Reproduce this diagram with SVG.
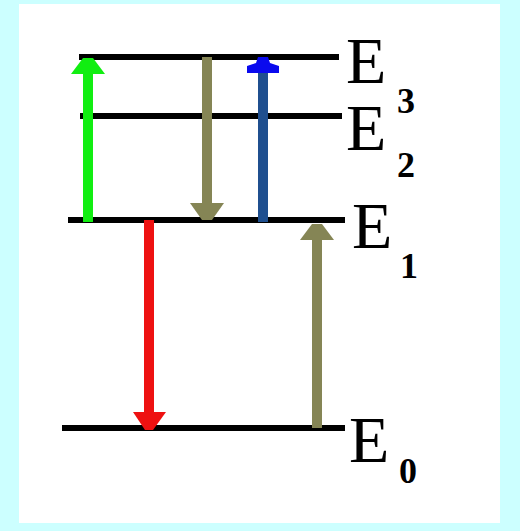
<svg xmlns="http://www.w3.org/2000/svg" width="520" height="531" viewBox="0 0 520 531">
<style>
.lvl{stroke:#000;stroke-width:6;fill:none}
.E{font-family:"Liberation Serif","Times New Roman",serif;font-size:66px;fill:#000}
.sub{font-family:"Liberation Serif","Times New Roman",serif;font-size:36px;font-weight:bold;fill:#000}
.shaft{stroke-width:10;fill:none}
</style>
<rect x="0" y="0" width="520" height="531" fill="#ccffff"/>
<rect x="19" y="4" width="481" height="519" fill="#ffffff"/>
<g id="E3"><line class="lvl" x1="79" y1="57" x2="339" y2="57"/><text class="E" x="346" y="83">E</text><text class="sub" x="397" y="113">3</text></g>
<g id="E2"><line class="lvl" x1="80" y1="116" x2="342" y2="116"/><text class="E" x="346" y="150">E</text><text class="sub" x="397" y="177">2</text></g>
<g id="E1"><line class="lvl" x1="68" y1="220" x2="345" y2="220"/><text class="E" x="352" y="248">E</text><text class="sub" x="400" y="278">1</text></g>
<g id="E0"><line class="lvl" x1="62" y1="428" x2="345" y2="428"/><text class="E" x="349" y="462">E</text><text class="sub" x="399" y="483">0</text></g>
<g id="connectors">
<g id="green-up"><line class="shaft" stroke="#11ee11" x1="88" y1="222" x2="88" y2="72"/><polygon fill="#11ee11" points="83,58 93,58 105,74 71,74"/></g>
<g id="olive-down"><line class="shaft" stroke="#858555" x1="207" y1="57" x2="207" y2="205"/><polygon fill="#858555" points="190,203 224,203 212,220 202,220"/></g>
<g id="blue-up"><line class="shaft" stroke="#1f4f8f" x1="263" y1="222" x2="263" y2="70"/><polygon fill="#0a0aee" points="258,57 268,57 270,63 279,66 279,73 247,73 247,66 256,63"/></g>
<g id="red-down"><line class="shaft" stroke="#ee1111" x1="149" y1="220" x2="149" y2="414"/><polygon fill="#ee1111" points="133,412 166,412 153,430 145,430"/></g>
<g id="olive-up"><line class="shaft" stroke="#858555" x1="317" y1="428" x2="317" y2="238"/><polygon fill="#858555" points="300,240 334,240 322,224 312,224"/></g>
</g>
</svg>
